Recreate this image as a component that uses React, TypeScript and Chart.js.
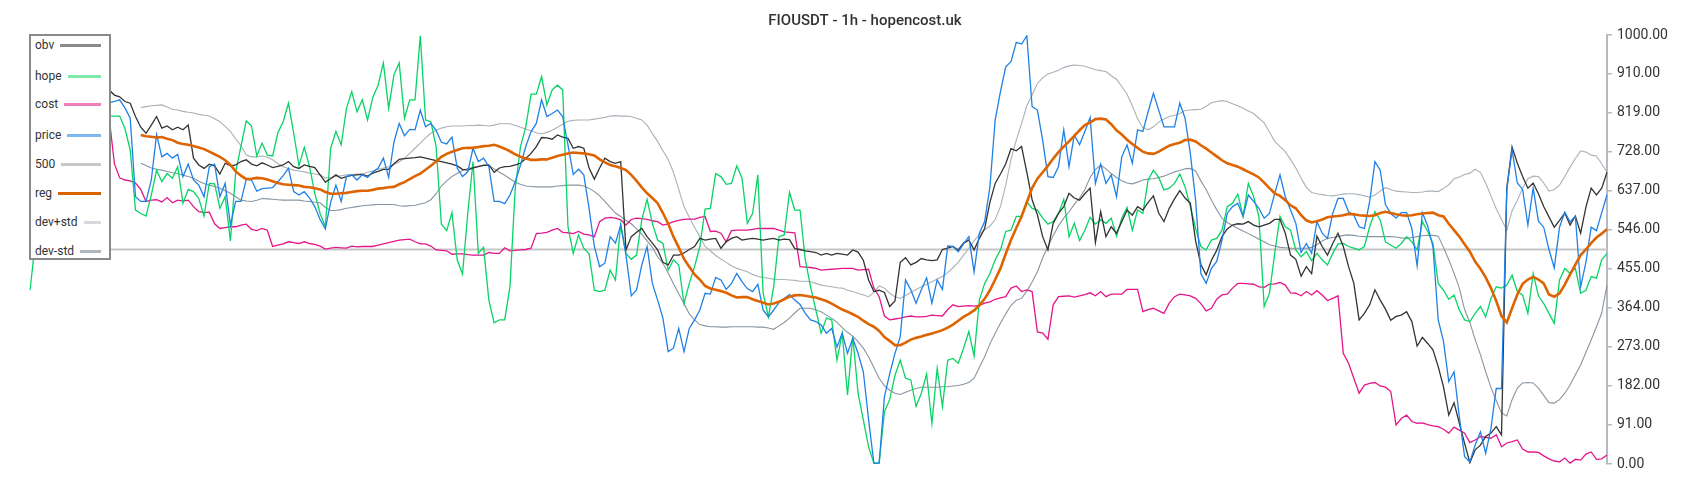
import React, { useEffect, useRef } from 'react';
import { Chart, registerables } from 'chart.js';

Chart.register(...registerables);

const TITLE = 'FIOUSDT - 1h - hopencost.uk';
const yTickValues = [0, 91, 182, 273, 364, 455, 546, 637, 728, 819, 910, 1000];
const LEVEL = 500;
const categories: string[] = Array.from({ length: 300 }, (_, i) => String(i));

const obv = [
  900, 905, 898, 892, 900, 895, 890, 888, 885, 890, 884, 880, 878, 876, 874,
  872, 860, 856, 845, 841, 810, 785, 771, 790, 810, 783, 788, 779, 785, 779, 790, 713, 697, 689, 699, 695, 676, 701, 695, 697, 705, 709, 699, 695, 702, 697, 691, 694, 697, 705, 693, 689, 697, 694, 691, 674,
  657, 665, 674, 666, 670, 673, 674, 675, 671, 678, 682, 687, 687, 700, 710, 712, 713, 714, 716, 713, 710, 707, 705, 702, 699, 695, 687, 685, 690, 693, 696, 697, 680, 690, 693, 694, 697, 701, 712, 724, 740, 761, 760, 757, 767, 762, 759, 736, 740, 736, 690, 664, 690,
  713, 705, 701, 705, 499, 530, 540, 549, 530, 515, 499, 470, 464, 487, 487, 492, 500, 507, 526, 522, 524, 526, 503, 518, 526, 530, 522, 524, 526, 524, 522, 524, 526, 522, 524, 523, 502, 500, 497, 495, 493, 487, 491, 487, 491, 489, 487, 499, 494, 475, 429, 402, 405, 400, 367,
  380, 470, 481, 464, 470, 479, 476, 474, 476, 500, 503, 507, 499, 515, 522, 499, 526, 549, 610, 654, 676, 700, 735, 730, 740, 680, 616, 581, 530, 499, 561, 584, 600, 631, 620, 615, 630, 643, 516, 588, 530, 553, 538, 565, 592, 580, 600, 592, 610, 625, 585, 565, 596, 618, 637,
  620, 608, 520, 465, 441, 475, 498, 530, 548, 557, 560, 559, 565, 557, 553, 557, 561, 570, 570, 538, 487, 477, 438, 460, 444, 531, 507, 487, 514, 538, 507, 460, 421, 336, 351, 371, 406, 382, 361, 335, 344, 347, 355, 332, 275, 295, 281, 266, 227, 180, 114, 143, 95, 48, 3,
  33, 44, 64, 72, 87, 68, 643, 739, 701, 670, 643, 655, 630, 600, 576, 552, 568, 585, 557, 578, 538, 599, 643, 627, 643, 680,
];

const hope = [
  405, 516, 600, 680, 720, 760, 740, 780, 800, 790, 810, 800, 820, 815, 812,
  811, 811, 811, 782, 732, 592, 584, 578, 627, 685, 658, 677, 666, 693, 608, 640, 635, 619, 578, 654, 653, 596, 623, 520, 681, 741, 800, 788, 718, 748, 720, 718, 772, 798, 841, 771, 695, 738, 693, 631, 584,
  553, 736, 775, 744, 829, 868, 821, 849, 802, 855, 883, 935, 829, 907, 935, 806, 849, 849, 998, 802, 798, 740, 559, 544, 586, 476, 443, 584, 705, 491, 505, 382, 329, 336, 336, 413, 643, 740, 786, 862, 862, 903, 837, 872, 883, 872, 553, 491, 534, 503, 490, 405, 402,
  405, 452, 429, 559, 491, 477, 487, 569, 617, 561, 522, 514, 452, 476, 464, 374, 421, 460, 507, 594, 596, 677, 670, 652, 654, 695, 666, 561, 584, 674, 398, 343, 413, 530, 534, 633, 592, 592, 476, 413, 359, 305, 340, 336, 242, 305, 161, 297, 165, 103, 40, 2, 2, 122, 150,
  207, 242, 200, 196, 134, 165, 210, 95, 223, 134, 242, 246, 235, 270, 309, 252, 382, 421, 444, 476, 499, 542, 545, 577, 577, 611, 596, 592, 573, 559, 565, 584, 617, 530, 561, 521, 545, 575, 559, 569, 561, 573, 531, 573, 598, 545, 592, 584, 662, 685, 668, 639, 643, 654, 676,
  646, 600, 549, 507, 499, 522, 526, 545, 600, 608, 629, 577, 654, 623, 577, 367, 398, 491, 577, 553, 545, 499, 483, 495, 474, 491, 476, 464, 491, 513, 514, 507, 503, 499, 507, 553, 588, 569, 518, 510, 503, 514, 530, 518, 499, 565, 542, 514, 421, 405, 384, 394, 359, 336, 332,
  351, 367, 343, 386, 413, 410, 417, 440, 402, 394, 351, 444, 392, 374, 351, 328, 429, 456, 444, 456, 398, 405, 437, 433, 476, 491,
];

const cost = [
  960, 975, 990, 1000, 1000, 1000, 995, 980, 960, 940, 920, 900, 880, 860, 835,
  809, 700, 667, 662, 660, 655, 640, 612, 615, 616, 611, 621, 609, 615, 613, 615, 600, 588, 586, 587, 560, 549, 551, 553, 553, 557, 559, 547, 544, 549, 545, 507, 510, 513, 518, 516, 514, 518, 514, 512, 508,
  501, 503, 505, 504, 503, 508, 506, 507, 507, 507, 510, 513, 516, 519, 522, 523, 524, 518, 513, 513, 508, 499, 498, 497, 489, 490, 490, 488, 487, 487, 487, 493, 491, 491, 504, 497, 498, 499, 500, 503, 537, 538, 540, 545, 549, 540, 539, 537, 542, 536, 534, 530, 565,
  573, 575, 573, 569, 557, 570, 573, 572, 570, 567, 565, 557, 560, 565, 568, 570, 571, 571, 575, 577, 542, 543, 538, 518, 544, 545, 545, 545, 547, 549, 549, 549, 549, 545, 541, 540, 539, 460, 459, 458, 456, 452, 453, 454, 455, 456, 456, 456, 452, 453, 454, 410, 390, 345, 336,
  338, 340, 343, 345, 343, 343, 344, 347, 346, 345, 360, 371, 367, 368, 369, 368, 370, 375, 378, 384, 387, 390, 410, 415, 402, 406, 402, 308, 305, 291, 371, 390, 391, 392, 389, 392, 395, 399, 392, 402, 390, 396, 396, 396, 407, 407, 407, 355, 360, 363, 357, 351, 375, 390, 396,
  394, 392, 386, 374, 357, 363, 384, 394, 396, 410, 421, 421, 420, 419, 413, 412, 419, 420, 423, 417, 399, 398, 392, 402, 394, 404, 394, 381, 386, 392, 258, 235, 200, 165, 184, 188, 190, 182, 179, 169, 91, 106, 114, 99, 95, 96, 92, 89, 87, 81, 72, 86, 79, 72, 50,
  56, 64, 62, 60, 68, 40, 49, 52, 56, 35, 28, 28, 27, 19, 12, 7, 5, 14, 2, 11, 9, 23, 28, 11, 12, 21,
];

const price = [
  880, 870, 875, 860, 865, 850, 855, 845, 850, 840, 845, 838, 842, 836, 840,
  842, 845, 849, 830, 806, 623, 612, 612, 662, 768, 716, 724, 713, 722, 670, 699, 662, 650, 623, 693, 699, 623, 654, 557, 612, 612, 664, 662, 636, 642, 643, 644, 658, 672, 689, 635, 627, 635, 620, 600, 570,
  548, 610, 650, 612, 670, 674, 662, 674, 668, 681, 689, 713, 668, 750, 794, 765, 780, 779, 825, 786, 794, 778, 750, 746, 762, 690, 670, 681, 736, 705, 713, 693, 612, 612, 607, 627, 658, 697, 740, 775, 794, 849, 810, 817, 825, 810, 744, 675, 687, 674, 596, 507, 460,
  468, 530, 515, 557, 487, 392, 406, 464, 507, 421, 382, 340, 262, 270, 316, 262, 316, 336, 359, 398, 396, 435, 429, 407, 421, 444, 425, 409, 402, 419, 359, 343, 359, 376, 386, 395, 382, 372, 351, 336, 332, 324, 305, 316, 273, 305, 258, 293, 258, 215, 103, 2, 2, 157, 210,
  258, 297, 429, 406, 375, 406, 434, 375, 429, 407, 508, 507, 495, 513, 530, 448, 538, 565, 646, 802, 868, 926, 938, 983, 979, 998, 833, 825, 755, 670, 668, 693, 779, 693, 767, 744, 775, 808, 654, 699, 654, 674, 623, 716, 744, 701, 779, 775, 821, 864, 825, 786, 786, 786, 841,
  806, 724, 615, 444, 421, 456, 472, 522, 584, 600, 608, 577, 627, 612, 596, 573, 584, 631, 674, 623, 592, 561, 493, 514, 491, 565, 538, 526, 584, 619, 619, 588, 580, 553, 549, 612, 705, 685, 604, 584, 573, 586, 586, 549, 462, 586, 555, 507, 336, 286, 192, 215, 110, 17, 5,
  44, 75, 25, 83, 176, 176, 640, 732, 655, 640, 557, 643, 566, 552, 500, 457, 552, 587, 564, 578, 413, 470, 552, 544, 586, 627,
];

const reg = [
  null, null, null, null, null, null, null, null, null, null, null, null, null, null, null, null, null, null, null, null, null,
  767, 764, 763, 761, 762, 758, 755, 749, 746, 744, 741, 738, 734, 728, 722, 716, 708, 697, 682, 672, 664, 665, 667, 666, 663, 659, 655, 652, 651, 650, 649, 646, 645, 643, 640,
  634, 630, 630, 631, 632, 634, 636, 637, 637, 639, 642, 643, 645, 646, 652, 657, 664, 671, 677, 686, 695, 705, 716, 723, 728, 732, 736, 737, 737, 739, 741, 742, 744, 740, 735, 729, 722, 716, 712, 709, 709, 710, 710, 714, 718, 721, 724, 726, 725, 724, 722, 719, 710,
  703, 697, 694, 690, 685, 674, 660, 645, 631, 620, 608, 585, 560, 530, 505, 478, 460, 442, 430, 415, 409, 406, 403, 399, 393, 388, 389, 389, 384, 380, 376, 372, 374, 378, 384, 390, 393, 394, 392, 390, 388, 384, 380, 374, 367, 360, 355, 349, 343, 334, 326, 320, 310, 296, 287,
  277, 277, 283, 290, 294, 297, 301, 304, 308, 312, 318, 325, 334, 343, 350, 358, 370, 385, 405, 430, 456, 490, 522, 550, 577, 610, 643, 665, 680, 695, 712, 727, 740, 752, 765, 778, 790, 796, 804, 805, 803, 792, 778, 768, 756, 746, 737, 728, 724, 723, 728, 735, 742, 746, 749,
  755, 756, 752, 743, 735, 726, 717, 708, 701, 697, 693, 687, 681, 675, 668, 656, 643, 631, 625, 615, 603, 596, 580, 568, 563, 566, 570, 575, 577, 578, 580, 583, 582, 580, 579, 578, 580, 585, 588, 585, 582, 580, 579, 580, 582, 584, 585, 586, 580, 577, 560, 545, 530, 512, 495,
  472, 455, 435, 410, 380, 345, 330, 363, 395, 420, 430, 436, 430, 421, 395, 390, 398, 418, 442, 465, 487, 500, 515, 528, 537, 547,
];

const devPlus = [
  null, null, null, null, null, null, null, null, null, null, null, null, null, null, null, null, null, null, null, null, null,
  831, 833, 835, 836, 837, 832, 827, 825, 822, 820, 818, 815, 813, 811, 805, 798, 787, 775, 758, 742, 720, 716, 716, 718, 715, 709, 700, 693, 689, 685, 683, 681, 678, 676, 674,
  667, 668, 670, 672, 674, 675, 676, 676, 680, 683, 687, 690, 693, 698, 704, 713, 724, 736, 748, 760, 771, 778, 783, 786, 788, 788, 788, 789, 789, 790, 789, 788, 790, 793, 793, 793, 789, 785, 781, 777, 772, 770, 773, 778, 785, 792, 799, 801, 802, 802, 802, 804, 806,
  808, 811, 812, 811, 811, 810, 806, 802, 790, 770, 752, 730, 710, 680, 640, 600, 575, 552, 530, 507, 497, 486, 478, 470, 462, 456, 452, 448, 442, 437, 435, 433, 431, 430, 430, 429, 428, 426, 426, 425, 421, 417, 415, 413, 411, 410, 405, 402, 398, 394, 390, 400, 415, 410, 398,
  390, 386, 393, 400, 407, 413, 419, 425, 431, 437, 446, 458, 470, 487, 503, 520, 535, 546, 554, 570, 600, 650, 710, 755, 794, 835, 860, 887, 900, 909, 913, 918, 924, 928, 930, 929, 927, 923, 919, 917, 915, 905, 897, 880, 862, 835, 805, 784, 779, 786, 797, 804, 810, 813, 817,
  824, 825, 826, 827, 834, 842, 845, 847, 845, 840, 835, 829, 823, 817, 806, 795, 774, 752, 740, 728, 710, 690, 666, 645, 633, 630, 628, 626, 625, 627, 629, 630, 630, 628, 625, 622, 627, 636, 644, 640, 636, 635, 634, 633, 633, 634, 636, 636, 635, 642, 651, 665, 669, 675, 678,
  687, 680, 655, 625, 595, 570, 545, 590, 615, 643, 665, 671, 670, 655, 636, 640, 650, 670, 692, 712, 730, 727, 720, 718, 700, 680,
];

const devMinus = [
  null, null, null, null, null, null, null, null, null, null, null, null, null, null, null, null, null, null, null, null, null,
  701, 696, 690, 687, 685, 682, 679, 677, 673, 670, 666, 659, 654, 650, 647, 643, 637, 631, 623, 615, 613, 612, 615, 619, 618, 617, 616, 615, 615, 615, 615, 613, 612, 610, 609,
  598, 591, 591, 593, 596, 598, 600, 602, 603, 604, 605, 605, 605, 605, 602, 601, 602, 603, 606, 609, 616, 630, 648, 660, 670, 677, 684, 689, 691, 694, 697, 696, 688, 680, 673, 665, 657, 652, 648, 647, 646, 646, 646, 646, 648, 649, 650, 650, 650, 648, 643, 635, 625,
  612, 598, 585, 577, 568, 560, 548, 536, 520, 505, 483, 468, 445, 420, 397, 374, 350, 336, 325, 322, 320, 320, 319, 319, 320, 320, 320, 320, 320, 319, 319, 317, 314, 322, 330, 340, 352, 363, 363, 363, 359, 355, 347, 340, 330, 318, 307, 298, 285, 270, 250, 225, 200, 182, 172,
  165, 162, 167, 172, 176, 179, 179, 179, 179, 180, 180, 182, 183, 186, 190, 200, 225, 250, 280, 305, 328, 350, 370, 382, 386, 403, 424, 448, 480, 507, 532, 555, 573, 588, 605, 620, 640, 668, 686, 697, 688, 677, 668, 660, 655, 653, 657, 662, 664, 665, 668, 671, 676, 681, 684,
  688, 689, 683, 660, 640, 615, 593, 573, 563, 556, 549, 543, 537, 531, 524, 518, 511, 508, 505, 504, 503, 503, 503, 503, 505, 511, 520, 526, 528, 530, 533, 534, 533, 531, 530, 530, 530, 530, 530, 530, 529, 527, 526, 528, 530, 532, 533, 533, 531, 505, 476, 445, 410, 360, 330,
  290, 255, 215, 178, 148, 119, 112, 150, 177, 189, 190, 189, 177, 160, 143, 142, 150, 165, 184, 208, 231, 260, 289, 320, 352, 417,
];

const legendItems = [
  { label: 'obv', color: '#8a8a8a' },
  { label: 'hope', color: '#7fe9a9' },
  { label: 'cost', color: '#ee80b7' },
  { label: 'price', color: '#7db8f0' },
  { label: '500', color: '#c8c8c8' },
  { label: 'reg', color: '#d86400' },
  { label: 'dev+std', color: '#d5d9dd' },
  { label: 'dev-std', color: '#aeb6be' },
];
const legendRowCenters = [9, 40, 68, 99, 128, 157, 186, 215];

export default function App() {
  const canvasRef = useRef<HTMLCanvasElement | null>(null);

  useEffect(() => {
    const canvas = canvasRef.current;
    if (!canvas) return;
    const first = categories[0];
    const last = categories[categories.length - 1];
    const chart = new Chart(canvas, {
      type: 'line',
      data: {
        labels: categories,
        datasets: [
          { label: 'reg', data: reg, borderColor: '#dd6400', borderWidth: 2.6, order: 0 },
          { label: 'price', data: price, borderColor: '#1f80e6', borderWidth: 1.3, order: 1 },
          { label: 'obv', data: obv, borderColor: '#333333', borderWidth: 1.3, order: 2 },
          { label: 'hope', data: hope, borderColor: '#08d365', borderWidth: 1.3, order: 3 },
          { label: 'cost', data: cost, borderColor: '#e5158a', borderWidth: 1.3, order: 4 },
          { label: 'dev+std', data: devPlus, borderColor: '#a9b1b9', borderWidth: 1.1, order: 5 },
          { label: 'dev-std', data: devMinus, borderColor: '#8895a1', borderWidth: 1.1, order: 6 },
          {
            label: '500',
            data: [{ x: first, y: LEVEL }, { x: last, y: LEVEL }] as any,
            borderColor: '#c6c6c6',
            borderWidth: 2,
            order: 7,
          },
        ],
      },
      options: {
        responsive: false,
        animation: false,
        events: [],
        layout: { padding: { left: 30, right: 0, top: 0, bottom: 36 } },
        elements: { point: { radius: 0 }, line: { tension: 0, fill: false } },
        plugins: {
          legend: { display: false },
          tooltip: { enabled: false },
          title: {
            display: true,
            text: TITLE,
            color: '#333333',
            font: { family: 'Roboto', size: 15, weight: '500' as any },
            padding: { top: 12, bottom: 5 },
          },
        },
        scales: {
          x: { type: 'category', display: false },
          y: {
            position: 'right',
            min: 0,
            max: 1000,
            afterBuildTicks: (scale: any) => {
              scale.ticks = yTickValues.map((v) => ({ value: v }));
            },
            afterFit: (scale: any) => {
              scale.width = 93;
            },
            grid: { drawOnChartArea: false, drawTicks: true, tickLength: 5, color: '#b3bac1', lineWidth: 1.5 },
            border: { display: true, color: '#b3bac1', width: 2 },
            ticks: {
              color: '#333333',
              padding: 5,
              font: { family: 'Roboto', size: 14 },
              callback: (v: any) => Number(v).toFixed(2),
            },
          },
        },
      },
    });
    return () => chart.destroy();
  }, []);

  return (
    <div style={{ position: 'fixed', left: 0, top: 0, width: 1700, height: 500, background: '#ffffff' }}>
      <canvas ref={canvasRef} width={1700} height={500} style={{ position: 'absolute', left: 0, top: 0, width: 1700, height: 500 }} />
      <div
        style={{
          position: 'absolute',
          left: 29,
          top: 34,
          width: 82,
          height: 226,
          boxSizing: 'border-box',
          border: '2px solid #8a8a8a',
          background: '#ffffff',
          fontFamily: 'Roboto, sans-serif',
          fontSize: 12,
          color: '#333333',
        }}
      >
        {legendItems.map((item, k) => (
          <div
            key={item.label}
            style={{
              position: 'absolute',
              left: 4,
              right: 8,
              top: legendRowCenters[k] - 9,
              height: 18,
              display: 'flex',
              alignItems: 'center',
              lineHeight: '18px',
            }}
          >
            <span>{item.label}</span>
            <span style={{ flex: 1, height: 3, background: item.color, marginLeft: 6 }} />
          </div>
        ))}
      </div>
    </div>
  );
}
